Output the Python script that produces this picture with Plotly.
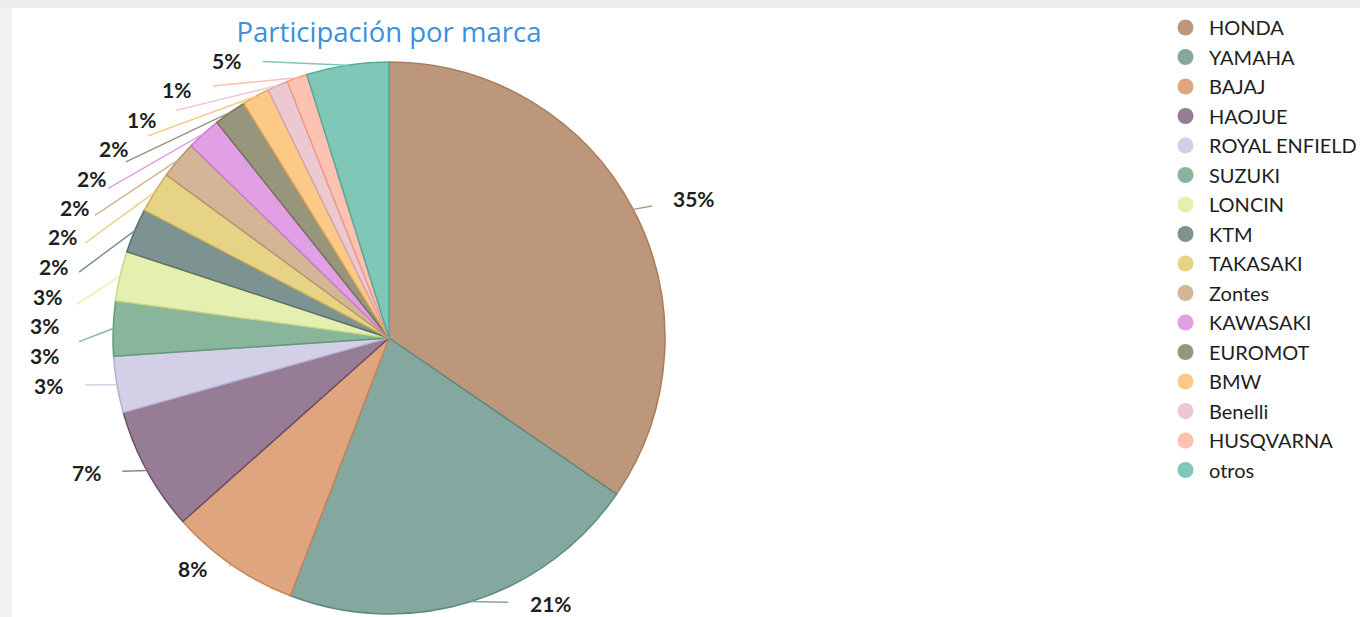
import math
import plotly.graph_objects as go

brands = ["HONDA", "YAMAHA", "BAJAJ", "HAOJUE", "ROYAL ENFIELD", "SUZUKI", "LONCIN", "KTM",
          "TAKASAKI", "Zontes", "KAWASAKI", "EUROMOT", "BMW", "Benelli", "HUSQVARNA", "otros"]
shares = [34.5, 21.2, 7.6, 7.2, 3.3, 3.2, 2.9, 2.6, 2.4, 2.2, 2.0, 1.9, 1.6, 1.2, 1.2, 4.8]
pct_labels = ["35%", "21%", "8%", "7%", "3%", "3%", "3%", "3%",
              "2%", "2%", "2%", "2%", "2%", "1%", "1%", "5%"]
colors = ["#bd977b", "#84a89f", "#dfa57f", "#977c96", "#d3cfe7", "#88b59c", "#e5efb0", "#7c9391",
          "#e6d386", "#d4b696", "#e0a0e3", "#97967c", "#fdc987", "#ecc8d0", "#fcc1b0", "#7fc8b8"]
edge_colors = ["#a97c5c", "#5f8a80", "#c98458", "#6b4f6a", "#b4aed3", "#5f9a79", "#c9d58a", "#5a706e",
               "#c9b25c", "#b89672", "#c97ccd", "#74735a", "#e3a85e", "#d6a6b2", "#ee9c86", "#55aa98"]

W, H = 1360, 617
# pie geometry (pixels)
CX, CY, R = 389, 338, 276
# label layout (Excel-like outside-end labels with leader lines)
A_LAB, B_UP, B_LO, B_STACK = 345, 300, 280, 315
LINE_H = 29.5
Y_MIN, Y_MAX = 60, 603


def px(x):
    return x / W


def py(y):
    return 1 - y / H


fig = go.Figure()
fig.add_trace(go.Pie(
    labels=brands, values=shares, textinfo="none", sort=False,
    direction="clockwise", rotation=0,
    marker=dict(colors=colors, line=dict(color=edge_colors, width=1.5)),
    domain=dict(x=[px(CX - R), px(CX + R)], y=[py(CY + R), py(CY - R)]),
    showlegend=False, hoverinfo="label+percent",
))

for b, c in zip(brands, colors):
    fig.add_trace(go.Scatter(
        x=[None], y=[None], mode="markers", name=b, legendgroup=b,
        marker=dict(symbol="circle", size=16, color=c),
        showlegend=True, hoverinfo="skip",
    ))

# label positions derived from the slice angles
total = sum(shares)
mids, cum = [], 0.0
for v in shares:
    mids.append((cum + v / 2) / total * 2 * math.pi)
    cum += v

pos = []
for th in mids:
    b = B_UP if math.cos(th) >= 0 else B_LO
    pos.append([CX + A_LAB * math.sin(th), CY - b * math.cos(th)])

# stack the left-hand labels from the top downward
left = [i for i, th in enumerate(mids) if math.sin(th) < 0]
left.sort(key=lambda i: -mids[i])
prev = None
for i in left:
    y = max(pos[i][1], Y_MIN)
    if prev is not None:
        y = max(y, prev + LINE_H)
    if y != pos[i][1]:
        t = max(0.0, 1 - ((y - CY) / B_STACK) ** 2)
        pos[i][0] = CX - A_LAB * math.sqrt(t)
    pos[i][1] = y
    prev = y
# keep labels inside the chart area vertically
for i in range(len(pos)):
    y = min(max(pos[i][1], Y_MIN), Y_MAX)
    if y != pos[i][1]:
        t = max(0.0, 1 - ((y - CY) / B_UP) ** 2)
        s = 1 if math.sin(mids[i]) >= 0 else -1
        pos[i][0] = CX + s * A_LAB * math.sqrt(t)
    pos[i][1] = y

annotations = []
for i, th in enumerate(mids):
    ex, ey = CX + R * math.sin(th), CY - R * math.cos(th)
    lx, ly = pos[i]
    annotations.append(dict(
        x=px(ex), y=py(ey), xref="paper", yref="paper",
        text=pct_labels[i], showarrow=True, arrowhead=0, arrowwidth=1.5,
        arrowcolor=colors[i], ax=lx - ex, ay=ly - ey, axref="pixel", ayref="pixel",
        standoff=0, startstandoff=20,
        font=dict(family="Lato", size=21, color="#1f1f1f", weight="bold"),
    ))

fig.update_layout(
    width=W, height=H, autosize=False,
    margin=dict(l=0, r=0, t=0, b=0, autoexpand=False),
    paper_bgcolor="white", plot_bgcolor="rgba(0,0,0,0)",
    xaxis=dict(visible=False), yaxis=dict(visible=False),
    title=dict(text="Participación por marca", x=px(389), xanchor="center",
               y=py(32), yanchor="middle",
               font=dict(family="Open Sans", size=27.5, color="#3a8fdf")),
    legend=dict(x=px(1162), xanchor="left", y=py(8), yanchor="top",
                font=dict(family="Lato", size=20, color="#1e1e1e"),
                bgcolor="rgba(0,0,0,0)", itemclick=False, tracegroupgap=0.5,
                itemwidth=37),
    annotations=annotations,
    shapes=[
        dict(type="rect", xref="paper", yref="paper", x0=0, x1=1.0, y0=py(8), y1=1.0,
             fillcolor="#ececec", line=dict(width=0), layer="below"),
        dict(type="rect", xref="paper", yref="paper", x0=0, x1=px(12), y0=0, y1=py(8),
             fillcolor="#f2f2f2", line=dict(width=0), layer="below"),
    ],
)

fig.write_html("out.html", config={"displayModeBar": False},
               post_script="document.body.style.margin='0';document.body.style.overflow='hidden';")
